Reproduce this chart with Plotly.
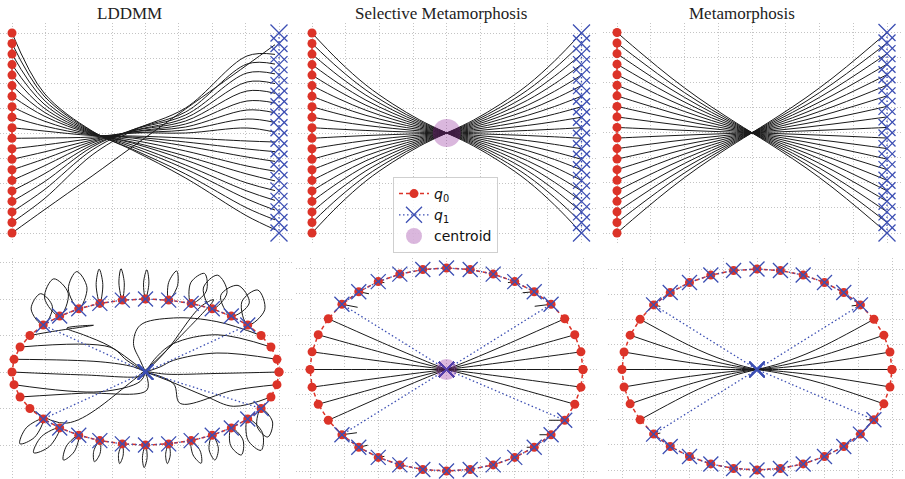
import plotly.graph_objects as go
import numpy as np

W, H = 905, 479

RED = "#dc3328"
BLUE = "#3c4fb3"
LINE = "#1a1a1a"
GRID = "#c4c4c4"
CENTROID = "rgba(140, 30, 150, 0.32)"

# ---------------- top row: two vertical columns of landmarks ----------------
Q0_TOP_Y = [1.000, 0.895, 0.789, 0.684, 0.579, 0.474, 0.368, 0.263, 0.158, 0.053,
            -0.053, -0.158, -0.263, -0.368, -0.474, -0.579, -0.684, -0.789, -0.895, -1.000]
Q1_TOP_Y = list(Q0_TOP_Y)
Q0_TOP_X = 0.0
Q1_TOP_X = 1.0
CENTROID_TOP = (0.5, 0.0)

TOP_TICKS_X = [0.0, 0.125, 0.25, 0.375, 0.5, 0.625, 0.75, 0.875, 1.0]
TOP_TICKS_Y = [-1.0, -0.75, -0.5, -0.25, 0.0, 0.25, 0.5, 0.75, 1.0]

# half-profiles (fraction of the starting height) sampled at PROFILE_X
PROFILE_X = [0.0, 0.1, 0.2, 0.3, 0.4, 0.5]
SEL_PROFILE = [1.0, 0.72, 0.48, 0.29, 0.13, 0.0]
META_PROFILE = [1.0, 0.77, 0.55, 0.35, 0.17, 0.0]

# LDDMM trajectories: heights at the stations LDDMM_X, one row per landmark
LDDMM_X = [0.0, 0.12, 0.30, 0.45, 0.65, 0.88, 0.985]
LDDMM_Y = [
    [1.000, 0.40, 0.020, -0.17, -0.45, -0.83, -0.966],
    [0.895, 0.37, 0.015, -0.16, -0.41, -0.75, -0.868],
    [0.789, 0.33, 0.010, -0.14, -0.36, -0.66, -0.771],
    [0.684, 0.29, 0.005, -0.12, -0.32, -0.58, -0.674],
    [0.579, 0.25, 0.000, -0.10, -0.27, -0.50, -0.576],
    [0.474, 0.21, -0.005, -0.09, -0.23, -0.41, -0.479],
    [0.368, 0.17, -0.010, -0.07, -0.18, -0.33, -0.382],
    [0.263, 0.12, -0.015, -0.05, -0.13, -0.24, -0.284],
    [0.158, 0.07, -0.020, -0.04, -0.09, -0.16, -0.187],
    [0.053, 0.02, -0.025, -0.03, -0.05, -0.08, -0.090],
    [-0.053, -0.05, -0.040, 0.00, 0.00, 0.05, 0.008],
    [-0.158, -0.12, -0.055, 0.00, 0.03, 0.14, 0.105],
    [-0.263, -0.19, -0.070, 0.01, 0.06, 0.23, 0.202],
    [-0.368, -0.26, -0.085, 0.01, 0.09, 0.32, 0.300],
    [-0.474, -0.33, -0.100, 0.02, 0.12, 0.42, 0.397],
    [-0.579, -0.41, -0.120, 0.02, 0.15, 0.51, 0.494],
    [-0.684, -0.49, -0.140, 0.03, 0.18, 0.60, 0.591],
    [-0.789, -0.57, -0.170, 0.03, 0.21, 0.69, 0.689],
    [-0.895, -0.66, -0.220, 0.02, 0.25, 0.77, 0.786],
    [-1.000, -0.77, -0.430, -0.14, 0.24, 0.68, 0.883],
]

# ---------------- bottom row: landmarks on an ellipse ----------------
ANGLES_DEG = [0, 10, 20, 30, 40, 50, 60, 70, 80, 90, 100, 110, 120, 130, 140, 150, 160, 170,
              180, 190, 200, 210, 220, 230, 240, 250, 260, 270, 280, 290, 300, 310, 320, 330, 340, 350]
ELLIPSE_A = 2.0
ELLIPSE_B = 1.0
MOVED = [0, 1, 2, 3, 15, 16, 17, 18, 19, 20, 21, 34, 35]   # landmarks sent to the centre
CENTROID_BOTTOM = (0.0, 0.0)

BOT_TICKS_X = [-2.0, -1.5, -1.0, -0.5, 0.0, 0.5, 1.0, 1.5, 2.0]
BOT_TICKS_Y_FINE = [-1.0, -0.75, -0.5, -0.25, 0.0, 0.25, 0.5, 0.75, 1.0]
BOT_TICKS_Y_COARSE = [-1.5, -1.0, -0.5, 0.0, 0.5, 1.0, 1.5]

# short back-and-forth strokes of the fixed landmarks (None = moved landmark)
SEL_STROKE_DX = [None, None, None, None, -0.24, -0.17, -0.10, -0.04, -0.015, 0.0, 0.015, 0.025, 0.09, 0.15, 0.23,
                 None, None, None, None, None, None, None,
                 0.22, 0.13, 0.09, 0.025, 0.01, 0.0, -0.01, -0.02, -0.05, -0.11, -0.17, -0.23, None, None]
SEL_STROKE_DY = [None, None, None, None, -0.02, -0.01, -0.01, 0.0, 0.0, 0.0, 0.0, 0.0, -0.01, -0.02, -0.03,
                 None, None, None, None, None, None, None,
                 0.02, 0.02, 0.01, 0.0, 0.0, 0.0, 0.0, 0.0, 0.0, 0.0, 0.0, 0.0, None, None]
META_STROKE_DX = [None, None, None, None, -0.13, -0.07, -0.03, -0.01, 0.0, 0.0, 0.0, 0.01, 0.03, 0.06, 0.10,
                  None, None, None, None, None, None, None,
                  0.10, 0.06, 0.03, 0.01, 0.0, 0.0, 0.0, -0.01, -0.02, -0.05, -0.07, -0.11, None, None]

# LDDMM loops of the fixed landmarks: tip offset and half-width
LOOP_DX = [None, None, None, None, 0.15, 0.10, 0.08, 0.20, 0.12, 0.02, -0.02, -0.01, -0.03, -0.09, -0.04,
           None, None, None, None, None, None, None,
           -0.35, -0.39, -0.23, -0.08, -0.04, -0.02, -0.02, 0.15, 0.04, 0.15, 0.20, 0.10, None, None]
LOOP_DY = [None, None, None, None, 0.48, 0.42, 0.46, 0.41, 0.40, 0.40, 0.43, 0.47, 0.51, 0.51, 0.43,
           None, None, None, None, None, None, None,
           -0.34, -0.34, -0.34, -0.29, -0.27, -0.31, -0.27, -0.31, -0.34, -0.37, -0.43, -0.39, None, None]
LOOP_W = [None, None, None, None, 0.18, 0.22, 0.18, 0.13, 0.07, 0.04, 0.04, 0.05, 0.14, 0.18, 0.16,
          None, None, None, None, None, None, None,
          0.09, 0.09, 0.07, 0.05, 0.035, 0.035, 0.035, 0.06, 0.07, 0.10, 0.12, 0.12, None, None]

# LDDMM paths of the moved landmarks (waypoints after the start, ending at the centre)
LDDMM_MOVED_PATHS = {
    0: [(1.07, -0.02), (0.32, -0.03), (0.05, 0.0), (0.0, 0.0)],
    1: [(1.07, 0.26), (0.42, 0.16), (0.22, 0.07), (0.0, 0.0)],
    2: [(1.07, 0.51), (0.42, 0.39), (0.17, 0.21), (0.0, 0.0)],
    3: [(1.07, 0.69), (0.42, 0.74), (-0.08, 0.64), (-0.18, 0.39), (-0.08, 0.16), (0.0, 0.0)],
    15: [(-1.43, 0.55), (-0.78, 0.64), (-1.18, 0.60), (-0.93, 0.51), (-0.53, 0.35), (0.0, 0.0)],
    16: [(-0.53, 0.34), (-0.28, 0.16), (0.0, 0.0)],
    17: [(-0.68, 0.14), (-0.18, 0.07), (0.0, 0.0)],
    18: [(-0.93, -0.04), (-0.03, -0.05), (0.0, 0.0)],
    19: [(-0.68, -0.27), (-0.08, -0.13), (0.0, 0.0)],
    20: [(-0.93, -0.29), (0.02, -0.25), (0.0, 0.0)],
    21: [(-1.18, -0.70), (-0.18, -0.11), (0.62, 0.58), (1.02, 0.99), (0.82, 0.89), (0.32, 0.30), (0.0, 0.0)],
    34: [(1.32, -0.47), (0.92, -0.34), (0.32, -0.11), (0.0, 0.0)],
    35: [(1.32, -0.25), (0.52, -0.43), (0.42, -0.16), (0.0, 0.0)],
}

TITLES = ["LDDMM", "Selective Metamorphosis", "Metamorphosis"]

# ---------------- panel geometry (pixels) ----------------
# each entry: box (left, top, right, bottom) and two data->pixel anchors per axis
PANELS = [
    dict(box=(0, 23, 292, 244), xa=((0, 12), (1, 279)), ya=((1, 33), (-1, 233))),
    dict(box=(298, 23, 596, 244), xa=((0, 312), (1, 581.5)), ya=((1, 33), (-1, 233))),
    dict(box=(603, 23, 901, 244), xa=((0, 617), (1, 887)), ya=((1, 32.5), (-1, 233))),
    dict(box=(0, 258, 292, 479), xa=((-2, 12), (2, 279)), ya=((1, 299), (-1, 445))),
    dict(box=(296, 258, 597, 479), xa=((-2, 310), (2, 583)), ya=((1, 268), (-1, 471))),
    dict(box=(608, 258, 905, 479), xa=((-2, 622), (2, 892)), ya=((1, 269), (-1, 470))),
]
TITLE_X_PX = [129, 441, 742]
TITLE_Y_PX = 13


def axis_range(a0, a1, lo_px, hi_px):
    (d0, p0), (d1, p1) = a0, a1
    s = (d1 - d0) / (p1 - p0)
    return [d0 + (lo_px - p0) * s, d0 + (hi_px - p0) * s]


fig = go.Figure()


def ax_names(i):
    n = "" if i == 0 else str(i + 1)
    return "x" + n, "y" + n


def add(i, **kw):
    xa, ya = ax_names(i)
    fig.add_trace(go.Scatter(xaxis=xa, yaxis=ya, **kw))


def add_paths(i, paths, width=1.0):
    xs, ys = [], []
    for px, py in paths:
        xs += list(px) + [None]
        ys += list(py) + [None]
    add(i, x=xs, y=ys, mode="lines", line=dict(color=LINE, width=width, shape="spline", smoothing=1.0),
        showlegend=False, hoverinfo="skip", connectgaps=False)


def add_landmarks(i, q0x, q0y, q1x, q1y, legend, xsize=17):
    add(i, x=q0x, y=q0y, mode="lines+markers", name="<i>q</i><sub>0</sub>",
        line=dict(color=RED, width=1.5, dash="4px,3px"),
        marker=dict(color=RED, size=9, symbol="circle"),
        showlegend=legend, legendrank=1, hoverinfo="skip")
    add(i, x=q1x, y=q1y, mode="lines+markers", name="<i>q</i><sub>1</sub>",
        line=dict(color=BLUE, width=1.3, dash="1.5px,2.5px"),
        marker=dict(symbol="x-thin", size=xsize, line=dict(color=BLUE, width=1.3)),
        showlegend=legend, legendrank=2, hoverinfo="skip")


# ---------- top row ----------
q0x_top = [Q0_TOP_X] * len(Q0_TOP_Y)
q1x_top = [Q1_TOP_X] * len(Q1_TOP_Y)

# LDDMM (landmark i lands on the mirrored target)
add_paths(0, [(LDDMM_X, row) for row in LDDMM_Y])
add_landmarks(0, q0x_top, Q0_TOP_Y, q1x_top, Q1_TOP_Y, False)

# Selective metamorphosis and metamorphosis: through the centre and back out
for panel, prof in ((1, SEL_PROFILE), (2, META_PROFILE)):
    paths = []
    right_x = [1.0 - v for v in PROFILE_X][::-1]
    for y0, y1 in zip(Q0_TOP_Y, Q1_TOP_Y):
        paths.append((PROFILE_X, [y0 * f for f in prof]))
        paths.append((right_x, [y1 * f for f in prof][::-1]))
    add_paths(panel, paths)
    add_landmarks(panel, q0x_top, Q0_TOP_Y, q1x_top, Q1_TOP_Y, panel == 1)
    if panel == 1:
        add(panel, x=[CENTROID_TOP[0]], y=[CENTROID_TOP[1]], mode="markers", name="centroid",
            marker=dict(color=CENTROID, size=28), showlegend=True, legendrank=3, hoverinfo="skip")

# ---------- bottom row ----------
theta = np.deg2rad(ANGLES_DEG)
ex = list(ELLIPSE_A * np.cos(theta))
ey = list(ELLIPSE_B * np.sin(theta))
q1x_b = [CENTROID_BOTTOM[0] if k in MOVED else ex[k] for k in range(len(ex))]
q1y_b = [CENTROID_BOTTOM[1] if k in MOVED else ey[k] for k in range(len(ey))]
close = lambda v: list(v) + [v[0]]

# LDDMM: loops for fixed landmarks, wandering paths for moved ones
paths = []
for k in range(len(ex)):
    x0, y0 = ex[k], ey[k]
    if k in MOVED:
        pts = [(x0, y0)] + LDDMM_MOVED_PATHS[k]
        paths.append(([p[0] for p in pts], [p[1] for p in pts]))
    else:
        tx, ty, w = LOOP_DX[k], LOOP_DY[k], LOOP_W[k]
        n = np.hypot(tx, ty)
        nx, ny = -ty / n * w, tx / n * w
        px = [x0, x0 + 0.55 * tx + nx, x0 + tx, x0 + 0.55 * tx - nx, x0]
        py = [y0, y0 + 0.55 * ty + ny, y0 + ty, y0 + 0.55 * ty - ny, y0]
        paths.append((px, py))
add_paths(3, paths)
add_landmarks(3, close(ex), close(ey), close(q1x_b), close(q1y_b), False, xsize=15)

# selective metamorphosis / metamorphosis
for panel, sdx, bend in ((4, SEL_STROKE_DX, 0.97), (5, META_STROKE_DX, 0.78)):
    paths = []
    for k in range(len(ex)):
        x0, y0 = ex[k], ey[k]
        if k in MOVED:
            paths.append(([x0, 0.5 * x0, 0.2 * x0, 0.0], [y0, 0.5 * y0 * bend, 0.2 * y0 * bend * bend, 0.0]))
        else:
            dy = SEL_STROKE_DY[k] * (1 if panel == 4 else 0.5)
            paths.append(([x0, x0 + sdx[k]], [y0, y0 + dy]))
    add_paths(panel, paths)
    add_landmarks(panel, close(ex), close(ey), close(q1x_b), close(q1y_b), False, xsize=15)
    if panel == 4:
        add(panel, x=[CENTROID_BOTTOM[0]], y=[CENTROID_BOTTOM[1]], mode="markers",
            marker=dict(color=CENTROID, size=21), showlegend=False, hoverinfo="skip")

# ---------- axes ----------
layout = {}
tick_sets = [
    (TOP_TICKS_X, TOP_TICKS_Y), (TOP_TICKS_X, TOP_TICKS_Y), (TOP_TICKS_X, TOP_TICKS_Y),
    (BOT_TICKS_X, BOT_TICKS_Y_COARSE), (BOT_TICKS_X, BOT_TICKS_Y_FINE), (BOT_TICKS_X, BOT_TICKS_Y_FINE),
]
for i, p in enumerate(PANELS):
    l, t, r, b = p["box"]
    xa, ya = ax_names(i)
    common = dict(showgrid=True, gridcolor=GRID, gridwidth=1, griddash="1px,2px", zeroline=False,
                  showticklabels=False, ticks="", showline=False, fixedrange=True)
    layout["xaxis" + xa[1:]] = dict(domain=[max(0, l / W), min(1, r / W)], range=axis_range(*p["xa"], l, r),
                                    tickvals=tick_sets[i][0], anchor=ya, **common)
    layout["yaxis" + ya[1:]] = dict(domain=[max(0, 1 - b / H), min(1, 1 - t / H)],
                                    range=axis_range(*p["ya"], b, t),
                                    tickvals=tick_sets[i][1], anchor=xa, **common)

annotations = [
    dict(text=TITLES[j], x=TITLE_X_PX[j] / W, y=1 - TITLE_Y_PX / H, xref="paper", yref="paper",
         xanchor="center", yanchor="middle", showarrow=False,
         font=dict(family="Liberation Serif", size=17, color="#222222"))
    for j in range(3)
]

fig.update_layout(
    width=W, height=H, margin=dict(l=0, r=0, t=0, b=0),
    paper_bgcolor="white", plot_bgcolor="white",
    annotations=annotations,
    legend=dict(x=393 / W, y=1 - 177 / H, xanchor="left", yanchor="top",
                bgcolor="rgba(255,255,255,0.85)", bordercolor="#cfcfcf", borderwidth=1,
                font=dict(family="DejaVu Sans", size=14, color="#111111"),
                itemwidth=30, tracegroupgap=0),
    **layout,
)

fig.write_html("out.html")
